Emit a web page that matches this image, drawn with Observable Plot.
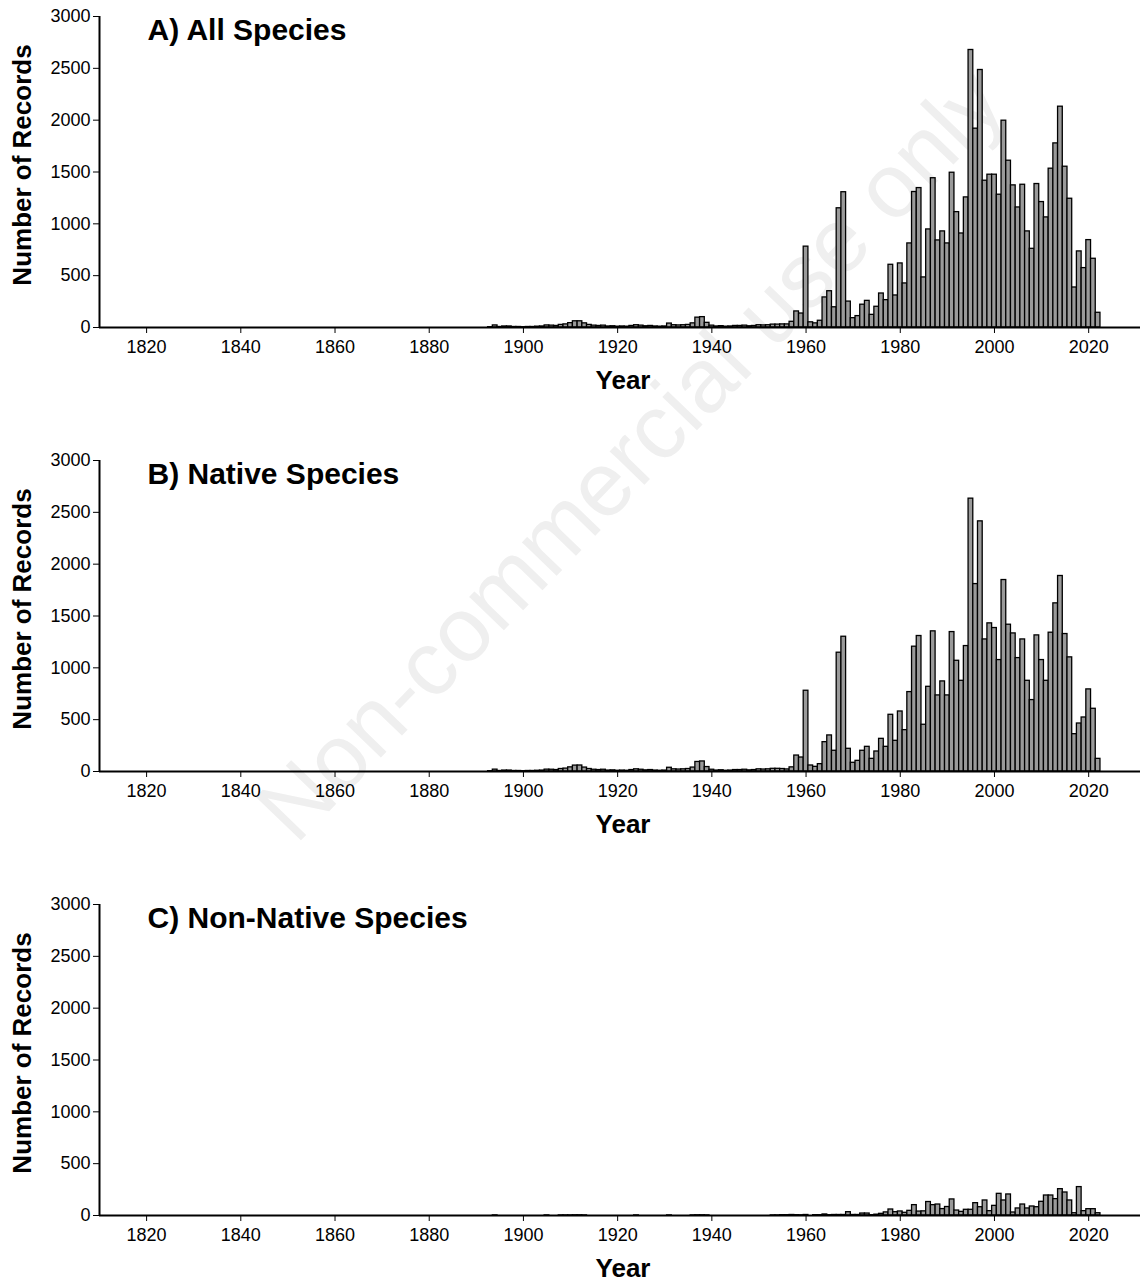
<!DOCTYPE html>
<html>
<head>
<meta charset="utf-8">
<script src="https://cdn.jsdelivr.net/npm/d3@7"></script>
<script src="https://cdn.jsdelivr.net/npm/@observablehq/plot@0.6"></script>
<style>
  html, body { margin: 0; padding: 0; background: white; }
  body { position: relative; width: 1141px; height: 1281px; overflow: hidden; font-family: "Liberation Sans", Arial, sans-serif; }
  #charts { position: relative; z-index: 1; }
  #charts svg { display: block; }
  #watermark {
    position: absolute; left: 630px; top: 455px; z-index: 0;
    transform: translate(-50%, -50%) rotate(-46deg);
    font-family: "Liberation Sans", Arial, sans-serif; font-size: 91px;
    color: #efefef; white-space: nowrap; pointer-events: none;
  }
</style>
</head>
<body>
<div id="watermark">Non-commercial use only</div>
<div id="charts"></div>
<script>
// ---- data ----
const years = d3.range(1893, 2023); // one bar per year, 1893..2022

const allSpecies = [
  3, 20, 5, 10, 10, 5, 5,                       // 1893-1899
  3, 5, 5, 8, 10, 20, 18, 15, 25, 30,           // 1900-1909
  42, 60, 60, 40, 25, 18, 15, 18, 10, 12,       // 1910-1919
  8, 10, 8, 15, 22, 18, 12, 15, 10, 8,          // 1920-1929
  10, 38, 22, 20, 22, 25, 40, 95, 100, 45,      // 1930-1939
  18, 10, 13, 8, 10, 15, 15, 18, 12, 15,        // 1940-1949
  22, 20, 22, 28, 28, 30, 30, 55, 155, 135,     // 1950-1959
  780, 50, 40, 65, 290, 350, 195, 1150, 1305, 250, // 1960-1969
  90, 110, 220, 257, 122, 200, 328, 264, 605, 309, // 1970-1979
  618, 425, 811, 1307, 1345, 483, 946, 1440, 840, 927, // 1980-1989
  811, 1493, 1113, 907, 1255, 2677, 1918, 2484, 1416, 1474, // 1990-1999
  1474, 1281, 1995, 1609, 1371, 1158, 1377, 927, 759, 1384, // 2000-2009
  1210, 1062, 1532, 1776, 2130, 1551, 1242, 386, 734, 573,  // 2010-2019
  843, 663, 142                                 // 2020-2022
];

const nativeSpecies = [
  3, 18, 5, 9, 9, 5, 5,
  3, 5, 5, 7, 9, 18, 17, 14, 24, 28,
  40, 57, 58, 38, 24, 17, 14, 17, 9, 11,
  7, 9, 7, 14, 21, 17, 11, 14, 9, 7,
  9, 36, 21, 19, 21, 24, 38, 92, 97, 43,
  17, 9, 12, 7, 9, 14, 14, 17, 11, 14,
  21, 19, 21, 26, 26, 24, 20, 40, 154, 135,
  779, 58, 45, 71, 283, 348, 200, 1146, 1300, 219,
  84, 103, 200, 238, 122, 193, 315, 238, 547, 296,
  579, 399, 766, 1204, 1307, 451, 817, 1352, 734, 869,
  734, 1345, 1068, 875, 1210, 2632, 1808, 2413, 1274, 1429,
  1384, 1075, 1847, 1416, 1332, 1094, 1274, 875, 689, 1313,
  1075, 875, 1339, 1622, 1886, 1326, 1101, 360, 463, 521,
  792, 605, 122
];

const nonNativeSpecies = [
  0, 1, 0, 0, 0, 0, 0,
  0, 0, 0, 0, 0, 1, 0, 0, 1, 1,
  1, 2, 2, 1, 0, 0, 0, 0, 0, 0,
  0, 0, 0, 0, 1, 0, 0, 0, 0, 0,
  0, 1, 0, 0, 0, 0, 1, 2, 2, 1,
  0, 0, 0, 0, 0, 0, 0, 0, 0, 0,
  0, 0, 0, 1, 1, 3, 3, 5, 3, 2,
  5, 0, 3, 3, 10, 3, 5, 5, 5, 32,
  5, 5, 19, 19, 3, 8, 16, 30, 58, 32,
  39, 26, 45, 100, 38, 40, 130, 100, 106, 62,
  82, 155, 48, 35, 55, 55, 119, 80, 145, 42,
  93, 209, 145, 203, 29, 68, 106, 68, 87, 80,
  132, 193, 193, 158, 254, 222, 145, 22, 274, 42,
  61, 61, 22
];

const panelTitles = ["A) All Species", "B) Native Species", "C) Non-Native Species"];
const xTicks = [1820, 1840, 1860, 1880, 1900, 1920, 1940, 1960, 1980, 2000, 2020];
const yTicks = [0, 500, 1000, 1500, 2000, 2500, 3000];

// ---- drawing ----
function panel(values, title, height, marginBottom) {
  const data = years.map((year, i) => ({year, n: values[i]}));
  return Plot.plot({
    width: 1141,
    height,
    marginLeft: 99,
    marginRight: 1,
    marginTop: 16,
    marginBottom,
    style: {
      fontFamily: "'Liberation Sans', Arial, sans-serif",
      fontSize: "18px",
      background: "transparent",
      color: "black",
      overflow: "visible"
    },
    x: {
      type: "linear",
      domain: [1810, 2031],
      ticks: xTicks,
      tickFormat: d => String(d),
      tickSize: 6,
      tickPadding: 7,
      label: null
    },
    y: {
      domain: [0, 3000],
      ticks: yTicks,
      tickFormat: d => String(d),
      tickSize: 6,
      tickPadding: 3,
      label: null
    },
    marks: [
      Plot.rectY(data, {
        x1: d => d.year - 0.5,
        x2: d => d.year + 0.5,
        y: "n",
        fill: "#9a9a9a",
        stroke: "black",
        strokeWidth: 1.3
      }),
      Plot.ruleY([0], {strokeWidth: 2}),
      Plot.ruleX([1810], {y1: 0, y2: 3000, strokeWidth: 2}),
      Plot.text([title], {
        frameAnchor: "top-left", textAnchor: "start", lineAnchor: "top",
        dx: 48, dy: 2, fontSize: 30, fontWeight: "bold"
      }),
      Plot.text(["Number of Records"], {
        frameAnchor: "left", textAnchor: "middle", lineAnchor: "middle",
        rotate: -90, dx: -77, dy: -7,
        fontSize: 26, fontWeight: "bold"
      }),
      Plot.text(["Year"], {
        frameAnchor: "bottom", textAnchor: "middle", dx: 3, dy: 61,
        fontSize: 26, fontWeight: "bold"
      })
    ]
  });
}

const charts = document.getElementById("charts");
charts.appendChild(panel(allSpecies, panelTitles[0], 444, 117));
charts.appendChild(panel(nativeSpecies, panelTitles[1], 444, 117));
charts.appendChild(panel(nonNativeSpecies, panelTitles[2], 393, 66));
</script>
</body>
</html>
